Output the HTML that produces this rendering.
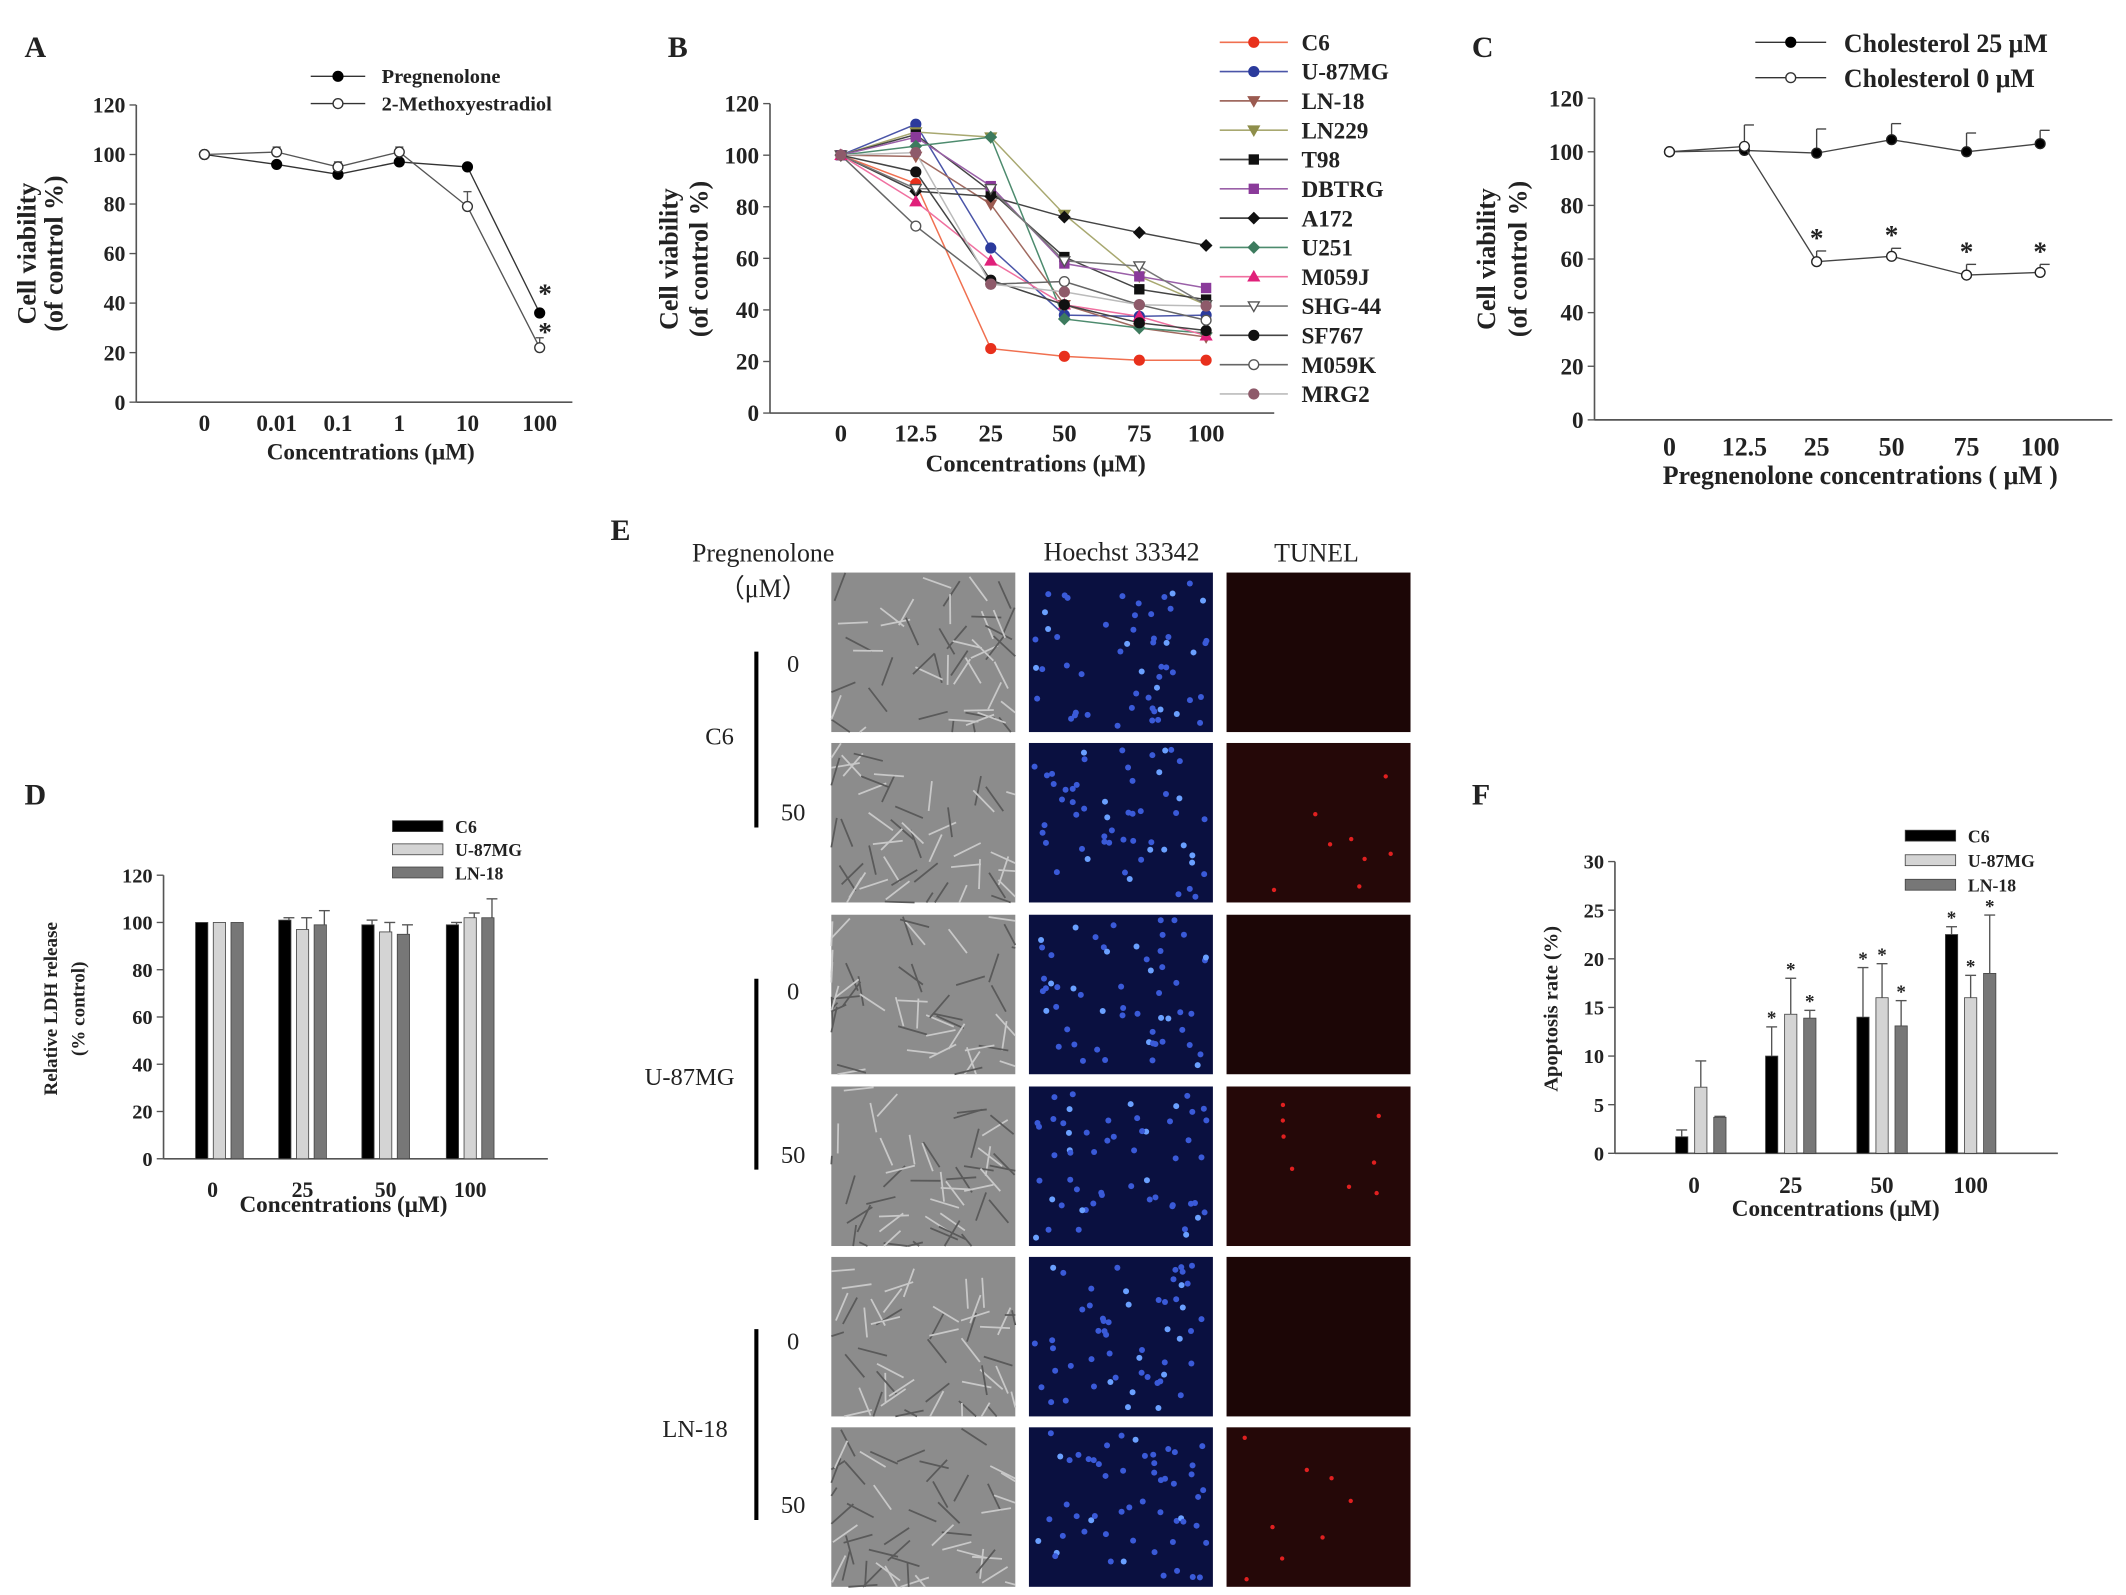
<!DOCTYPE html>
<html><head><meta charset="utf-8"><style>
html,body{margin:0;padding:0;background:#fff}
svg{display:block}
text{font-family:"Liberation Serif",serif;font-weight:bold;fill:#222}
</style></head><body>
<svg id="fig" width="2126" height="1595" viewBox="0 0 1560 1170" preserveAspectRatio="none" xmlns="http://www.w3.org/2000/svg">
<g id="gA"></g>
<g id="gB"></g>
<g id="gC"></g>
<g id="gD"></g>
<g id="gE"></g>
<g id="gF"></g>
</svg>
<script>
// ---- Panel A data
const aCats = ["0","0.01","0.1","1","10","100"];
const aPreg = [100,96,92,97,95,36];
const aMeth = [100,101,95,101,79,22];
const aMethErr = [0,2,2,2,6,4];
const aTicks = [0,20,40,60,80,100,120];
// ---- Panel B data
const bCats = ["0","12.5","25","50","75","100"];
const bNames = ["C6","U-87MG","LN-18","LN229","T98","DBTRG","A172","U251","M059J","SHG-44","SF767","M059K","MRG2"];
const bC6 = [100,89,25,22,20.5,20.5];
const bU87 = [100,112,64,38,37.5,38];
const bLN18 = [100,99.5,81,42,33,29.5];
const bLN229 = [100,109,107,77,53,42];
const bT98 = [100,108,86,60.5,48,44];
const bDBTRG = [100,107,88,58,53,48.5];
const bA172 = [100,86,84,76,70,65];
const bU251 = [100,103.5,107,36.5,33,31];
const bM059J = [100,82,59,42,37.5,30];
const bSHG44 = [100,87,87,59,57,42];
const bSF767 = [100,93.5,51.5,42,35,32];
const bM059K = [100,72.5,50,51,42,36];
const bMRG2 = [100,101,50,47,42,41.5];
// ---- Panel C data
const cCats = ["0","12.5","25","50","75","100"];
const cChol25 = [100,100.5,99.5,104.5,100,103];
const cChol25Err = [0,0,9,6,7,5];
const cChol0 = [100,102,59,61,54,55];
const cChol0Err = [0,8,4,3,4,3];
// ---- Panel D data
const dCats = ["0","25","50","100"];
const dC6 = [100,101,99,99];
const dU87 = [100,97,96,102];
const dLN18 = [100,99,95,102];
const dC6Err = [0,1,2,1];
const dU87Err = [0,5,4,2];
const dLN18Err = [0,6,4,8];
// ---- Panel F data
const fCats = ["0","25","50","100"];
const fC6 = [1.7,10,14,22.5];
const fU87 = [6.8,14.3,16,16];
const fLN18 = [3.7,13.9,13.1,18.5];
const fC6Err = [0.7,3,5.1,0.8];
const fU87Err = [2.7,3.7,3.5,2.3];
const fLN18Err = [0.1,0.8,2.6,6];

const NS="http://www.w3.org/2000/svg";
function mk(p,tag,at,txt){const e=document.createElementNS(NS,tag);for(const k in at)e.setAttribute(k,at[k]);if(txt!==undefined)e.textContent=txt;p.appendChild(e);return e;}
function lin(d0,d1,r0,r1){return v=>r0+(v-d0)*(r1-r0)/(d1-d0);}

function marker(g,shape,x,y,color,fill){
  let e;
  if(shape==="circle") e=mk(g,"circle",{cx:x,cy:y,r:3.6,fill:fill,stroke:color,"stroke-width":1});
  else if(shape==="square") e=mk(g,"rect",{x:x-3.3,y:y-3.3,width:6.6,height:6.6,fill:fill,stroke:color});
  else if(shape==="diamond") e=mk(g,"polygon",{points:`${x},${y-4} ${x+4},${y} ${x},${y+4} ${x-4},${y}`,fill:fill,stroke:color});
  else if(shape==="down") e=mk(g,"polygon",{points:`${x-4},${y-3} ${x+4},${y-3} ${x},${y+4}`,fill:fill,stroke:color});
  else e=mk(g,"polygon",{points:`${x-4},${y+3} ${x+4},${y+3} ${x},${y-4}`,fill:fill,stroke:color});
  return e;
}
function axes(g,x0,x1,y0,ticks,ys,fs){
  const ax=mk(g,"line",{x1:x0,y1:y0,x2:x1,y2:y0,stroke:"#555","stroke-width":1.2});
  
  
  const ay=mk(g,"line",{x1:x0,y1:y0,x2:x0,y2:ys(ticks[ticks.length-1]),stroke:"#555","stroke-width":1.2});
  
  
  ticks.forEach(t=>{
    mk(g,"line",{x1:x0-5,y1:ys(t),x2:x0,y2:ys(t),stroke:"#555"});
    const tl=mk(g,"text",{x:x0-8,y:ys(t)+fs*0.35,"font-size":fs,"text-anchor":"end"},t);
    
    
  });
}
function label(g,x,y,txt,fs,name,anchor,rot){
  const at={x:x,y:y,"font-size":fs,"text-anchor":anchor||"middle"};
  if(rot) at.transform=`rotate(-90 ${x} ${y})`;
  const t=mk(g,"text",at,txt);
  
  
  return t;
}

// ===== Panel A =====
(function(){
const g=document.getElementById("gA");
const ys=lin(0,120,295,77);
const xpos=[150,203,248,293,343,396];
const xs=i=>xpos[0]+(xpos[i]-xpos[0]);
axes(g,100,420,295,aTicks,ys,16);
aCats.forEach((c,i)=>label(g,xs(i),316,c,17,"x-tick-label"));
label(g,18,42,"A",22,"panel-label","start");
label(g,272,337,"Concentrations (μM)",17,"x-axis-title");
label(g,26,186,"Cell viability",19,"y-axis-title","middle",true);
label(g,46,186,"(of control %)",19,"y-axis-title-2","middle",true);
const l1=mk(g,"polyline",{points:aPreg.map((v,i)=>xs(i)+","+ys(v)).join(" "),fill:"none",stroke:"#333","stroke-width":1});


const l2=mk(g,"polyline",{points:aMeth.map((v,i)=>xs(i)+","+ys(v)).join(" "),fill:"none",stroke:"#555","stroke-width":1});


aMeth.forEach((v,i)=>{if(aMethErr[i]){mk(g,"line",{x1:xs(i),y1:ys(v),x2:xs(i),y2:ys(v+aMethErr[i]),stroke:"#555"});mk(g,"line",{x1:xs(i)-3,y1:ys(v+aMethErr[i]),x2:xs(i)+3,y2:ys(v+aMethErr[i]),stroke:"#555"});}});
aPreg.forEach((v,i)=>{const m=marker(g,"circle",xs(i),ys(v),"#000","#000");});
aMeth.forEach((v,i)=>{const m=marker(g,"circle",xs(i),ys(v),"#333","#fff");});
label(g,400,222,"*",20,"significance-star","middle");
label(g,400,250,"*",20,"significance-star","middle");
mk(g,"line",{x1:228,y1:56,x2:268,y2:56,stroke:"#333"});marker(g,"circle",248,56,"#000","#000");
label(g,280,61,"Pregnenolone",15,"legend-pregnenolone","start");
mk(g,"line",{x1:228,y1:76,x2:268,y2:76,stroke:"#333"});marker(g,"circle",248,76,"#333","#fff");
label(g,280,81,"2-Methoxyestradiol",15,"legend-methoxyestradiol","start");
})();

// ===== Panel B =====
(function(){
const g=document.getElementById("gB");
const ys=lin(0,120,303,76);
const xpos=[617,672,727,781,836,885];
const xs=i=>xpos[0]+(xpos[i]-xpos[0]);
axes(g,565,935,303,aTicks,ys,17);
bCats.forEach((c,i)=>label(g,xs(i),324,c,18,"x-tick-label"));
label(g,490,42,"B",22,"panel-label","start");
label(g,760,346,"Concentrations (μM)",18,"x-axis-title");
label(g,497,190,"Cell viability",19,"y-axis-title","middle",true);
label(g,519,190,"(of control %)",19,"y-axis-title-2","middle",true);
const series=[bC6,bU87,bLN18,bLN229,bT98,bDBTRG,bA172,bU251,bM059J,bSHG44,bSF767,bM059K,bMRG2];
const colors=["#e8301c","#2b3a9c","#9b5a50","#8e8e4a","#111","#8a3a9a","#111","#3d7b5e","#e0207a","#555","#111","#555","#8e5a6a"];
const lcol=["#f07050","#4a55a8","#a06a60","#a8a870","#444","#9a60a8","#444","#4d8b6e","#f070a0","#777","#444","#666","#bbb"];
const shapes=["circle","circle","down","down","square","square","diamond","diamond","up","down","circle","circle","circle"];
const fills=[null,null,null,null,null,null,null,null,null,"#fff",null,"#fff",null];
series.forEach((s,k)=>{
  const pl=mk(g,"polyline",{points:s.map((v,i)=>xs(i)+","+ys(v)).join(" "),fill:"none",stroke:lcol[k],"stroke-width":1.1});
  
  
});
series.forEach((s,k)=>{
  s.forEach((v,i)=>{const m=marker(g,shapes[k],xs(i),ys(v),colors[k],fills[k]||colors[k]);
    
    });
  const ly=31+k*21.5;
  mk(g,"line",{x1:895,y1:ly,x2:945,y2:ly,stroke:lcol[k],"stroke-width":1.2});
  marker(g,shapes[k],920,ly,colors[k],fills[k]||colors[k]);
  label(g,955,ly+6,bNames[k],17,"legend-entry","start");
});
})();

// ===== Panel C =====
(function(){
const g=document.getElementById("gC");
const ys=lin(0,120,308,72);
const xpos=[1225,1280,1333,1388,1443,1497];
const xs=i=>xpos[0]+(xpos[i]-xpos[0]);
axes(g,1170,1550,308,[0,20,40,60,80,100,120],ys,17);
cCats.forEach((c,i)=>label(g,xs(i),334,c,19,"x-tick-label"));
label(g,1080,42,"C",22,"panel-label","start");
label(g,1365,355,"Pregnenolone  concentrations ( μM )",19,"x-axis-title");
label(g,1097,190,"Cell viability",19,"y-axis-title","middle",true);
label(g,1120,190,"(of control %)",19,"y-axis-title-2","middle",true);
[[cChol25,cChol25Err,"#000","cholesterol-25"],[cChol0,cChol0Err,"#fff","cholesterol-0"]].forEach(([s,e,f,n])=>{
  const pl=mk(g,"polyline",{points:s.map((v,i)=>xs(i)+","+ys(v)).join(" "),fill:"none",stroke:"#444","stroke-width":1});
  
  
  s.forEach((v,i)=>{if(e[i]){mk(g,"line",{x1:xs(i),y1:ys(v),x2:xs(i),y2:ys(v+e[i]),stroke:"#444"});mk(g,"line",{x1:xs(i),y1:ys(v+e[i]),x2:xs(i)+7,y2:ys(v+e[i]),stroke:"#444"});}
    const m=marker(g,"circle",xs(i),ys(v),"#222",f);});
});
cChol0.forEach((v,i)=>{if(i>=2)label(g,xs(i),ys(v+cChol0Err[i])-3,"*",20,"significance-star");});
mk(g,"line",{x1:1288,y1:31,x2:1340,y2:31,stroke:"#333"});marker(g,"circle",1314,31,"#000","#000");
label(g,1353,38,"Cholesterol 25 μM",19,"legend-cholesterol-25","start");
mk(g,"line",{x1:1288,y1:57,x2:1340,y2:57,stroke:"#333"});marker(g,"circle",1314,57,"#333","#fff");
label(g,1353,64,"Cholesterol   0 μM",19,"legend-cholesterol-0","start");
})();

// ===== Bar chart helper =====
function bars(g,sets,errs,names,fills,centers,offs,w,ys,errOff,stars){
  sets.forEach((s,k)=>{
    s.forEach((v,i)=>{
      const x=centers[i]+offs[k];
      const r=mk(g,"rect",{x:x-w/2,y:ys(v),width:w,height:ys(0)-ys(v),fill:fills[k],stroke:"#444","stroke-width":0.6});
      
      
      const e=errs[k][i];
      if(e){mk(g,"line",{x1:x+errOff,y1:ys(v),x2:x+errOff,y2:ys(v+e),stroke:"#555"});mk(g,"line",{x1:x+errOff-4,y1:ys(v+e),x2:x+errOff+4,y2:ys(v+e),stroke:"#555"});}
      if(stars&&stars(k,i)){const st=mk(g,"text",{x:x,y:ys(v+e)-2,"font-size":14,"text-anchor":"middle",fill:"#666"},"*");}
    });
  });
}

// ===== Panel D =====
(function(){
const g=document.getElementById("gD");
const ys=lin(0,120,850,642);
const centers=[161,222,283,345];
axes(g,120,402,850,[0,20,40,60,80,100,120],ys,15);
bars(g,[dC6,dU87,dLN18],[dC6Err,dU87Err,dLN18Err],["c6","u87mg","ln18"],["#000","#d4d4d4","#777"],centers,[-13,0,13],9,ys,3);
dCats.forEach((c,i)=>label(g,centers[i]-(i==0?5:0),878,c,16,"x-tick-label"));
label(g,252,889,"Concentrations (μM)",17,"x-axis-title");
label(g,18,590,"D",22,"panel-label","start");
label(g,42,740,"Relative LDH release",14,"y-axis-title","middle",true);
label(g,62,740,"(% control)",14,"y-axis-title-2","middle",true);
[["C6","#000"],["U-87MG","#d4d4d4"],["LN-18","#777"]].forEach(([n,c],k)=>{
  mk(g,"rect",{x:288,y:602+k*17,width:37,height:8,fill:c,stroke:"#444","stroke-width":0.6});
  label(g,334,611+k*17,n,13,"legend-entry","start");
});
})();

// ===== Panel F =====
(function(){
const g=document.getElementById("gF");
const ys=lin(0,30,846,632);
const centers=[1248,1314,1381,1446];
axes(g,1185,1510,846,[0,5,10,15,20,25,30],ys,15);
bars(g,[fC6,fU87,fLN18],[fC6Err,fU87Err,fLN18Err],["c6","u87mg","ln18"],["#000","#d4d4d4","#777"],centers,[-14,0,14],9,ys,0,(k,i)=>i>0);
fCats.forEach((c,i)=>label(g,centers[i]-(i==0?5:0),875,c,17,"x-tick-label"));
label(g,1347,892,"Concentrations (μM)",17,"x-axis-title");
label(g,1080,590,"F",22,"panel-label","start");
label(g,1143,740,"Apoptosis rate (%)",15,"y-axis-title","middle",true);
[["C6","#000"],["U-87MG","#d4d4d4"],["LN-18","#777"]].forEach(([n,c],k)=>{
  mk(g,"rect",{x:1398,y:609+k*18,width:37,height:8,fill:c,stroke:"#444","stroke-width":0.6});
  label(g,1444,618+k*18,n,13,"legend-entry","start");
});
})();

// ===== Panel E (micrographs) =====
(function(){
const g=document.getElementById("gE");
label(g,448,396,"E",22,"panel-label","start");
const h=mk(g,"text",{x:560,y:412,"font-size":19,"text-anchor":"middle"},"Pregnenolone");h.style.fontWeight="normal";
const h2=mk(g,"text",{x:560,y:438,"font-size":19,"text-anchor":"middle"},"（μM）");h2.style.fontWeight="normal";
const h3=mk(g,"text",{x:823,y:411,"font-size":19,"text-anchor":"middle"},"Hoechst 33342");h3.style.fontWeight="normal";
const h4=mk(g,"text",{x:966,y:412,"font-size":19,"text-anchor":"middle"},"TUNEL");h4.style.fontWeight="normal";
const cols=[610,755,900], rows=[420,545,671,797,922,1047], W=135, H=117;
let seed=7;function rnd(){seed=(seed*16807)%2147483647;return seed/2147483647;}
rows.forEach((ry,r)=>{
  cols.forEach((cx,c)=>{
    const base=c===0?"#8c8c8c":c===1?"#0a1040":(r%2?"#250808":"#1c0606");
    const rc=mk(g,"rect",{x:cx,y:ry,width:W,height:H,fill:base});
    
    
    if(c===0){for(let i=0;i<50;i++){const x=cx+rnd()*W,y=ry+rnd()*H,a=rnd()*Math.PI;mk(g,"line",{x1:x,y1:y,x2:Math.min(cx+W,Math.max(cx,x+Math.cos(a)*22)),y2:Math.min(ry+H,Math.max(ry,y+Math.sin(a)*22)),stroke:rnd()>0.5?"#c8c8c8":"#5a5a5a","stroke-width":1.3});}}
    if(c===1){for(let i=0;i<55;i++){mk(g,"circle",{cx:cx+4+rnd()*(W-8),cy:ry+4+rnd()*(H-8),r:2.2,fill:rnd()>0.8?"#6aa0ff":"#3a5ad8"});}}
    if(c===2&&r%2===1){for(let i=0;i<8;i++){mk(g,"circle",{cx:cx+5+rnd()*(W-10),cy:ry+5+rnd()*(H-10),r:1.6,fill:"#e02020"});}}
  });
});
[[478,607,"C6",528,540],[718,858,"U-87MG",506,790],[975,1115,"LN-18",510,1048]].forEach(([y1,y2,n,lx,ly])=>{
  mk(g,"line",{x1:555,y1:y1,x2:555,y2:y2,stroke:"#000","stroke-width":3});
  const t=mk(g,"text",{x:lx,y:ly+6,"font-size":18,"text-anchor":"middle"},n);t.style.fontWeight="normal";
  
  const a=mk(g,"text",{x:582,y:y1+15,"font-size":18,"text-anchor":"middle"},"0");a.style.fontWeight="normal";
  
  const b=mk(g,"text",{x:582,y:y2-5,"font-size":18,"text-anchor":"middle"},"50");b.style.fontWeight="normal";
  
});
})();
</script>
</body></html>
